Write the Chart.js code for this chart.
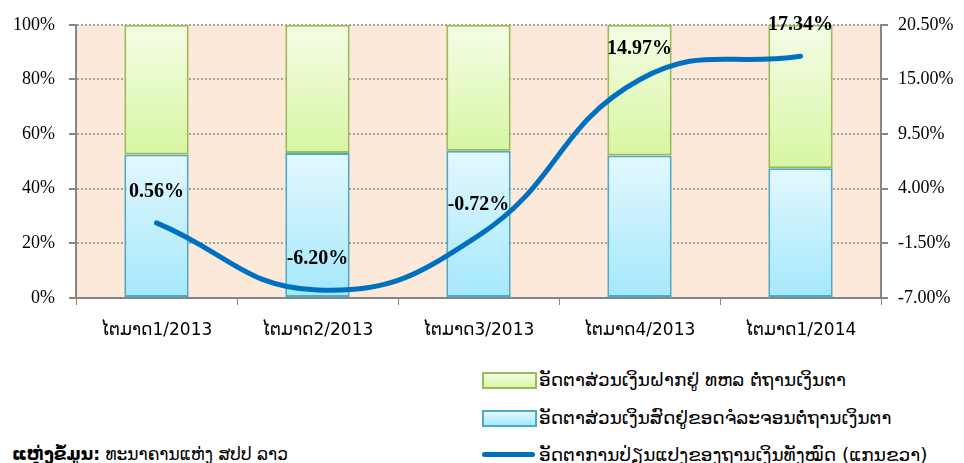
<!DOCTYPE html>
<html>
<head>
<meta charset="utf-8">
<script src="https://cdn.jsdelivr.net/npm/chart.js@4"></script>
<style>
  html, body { margin: 0; padding: 0; background: #fff; }
  body { width: 964px; height: 463px; position: relative; overflow: hidden; font-family: "DejaVu Sans", "Noto Sans", sans-serif; }
  #wrap { position: absolute; left: 0; top: 0; width: 964px; height: 345px; }
  .legend { position: absolute; left: 482px; top: 365px; }
  .legend .item { position: relative; height: 37.5px; line-height: 30px; font-size: 18.5px; color: #000; white-space: nowrap; padding-left: 57px; }
  .legend .sw { position: absolute; left: 0; top: 7px; width: 51px; height: 13px; }
  .legend .sw.line { top: 12px; height: 5px; border-radius: 3px; background: #0070C0; width: 53px; }
  .source { position: absolute; left: 12px; top: 444px; font-size: 17px; color: #000; white-space: nowrap; }
</style>
</head>
<body>
<div id="wrap"><canvas id="chart"></canvas></div>

<div class="legend">
  <div class="item"><span class="sw" style="background:linear-gradient(#F3FDE5,#D8F6A4);border:2px solid #9BBB59"></span>ອັດຕາສ່ວນເງິນຝາກຢູ່ ທຫລ ຕໍ່ຖານເງິນຕາ</div>
  <div class="item"><span class="sw" style="background:linear-gradient(#E3F8FE,#A6E9FC);border:2px solid #4BACC6"></span>ອັດຕາສ່ວນເງິນສົດຢູ່ຂອດຈໍລະຈອນຕໍ່ຖານເງິນຕາ</div>
  <div class="item"><span class="sw line"></span>ອັດຕາການປ່ຽນແປງຂອງຖານເງິນທັງໝົດ (ແກນຂວາ)</div>
</div>
<div class="source"><b>ແຫຼ່ງຂໍ້ມູນ:</b> ທະນາຄານແຫ່ງ ສປປ ລາວ</div>

<script>
/* -------- Data -------- */
const categories = ["ໄຕມາດ1/2013", "ໄຕມາດ2/2013", "ໄຕມາດ3/2013", "ໄຕມາດ4/2013", "ໄຕມາດ1/2014"];
const cashShare = [52.5, 53.1, 53.9, 52.2, 47.5];      // blue, bottom
const depositShare = [47.5, 46.9, 46.1, 47.8, 52.5];   // green, top
const baseGrowth = [0.56, -6.20, -0.72, 14.97, 17.34]; // line, right axis

const leftTicks = { min: 0, max: 100, step: 20 };
const rightTicks = { min: -7, max: 20.5, step: 5.5 };

/* -------- Helpers -------- */
function segGradient(c, topColor, bottomColor, fromVal, toVal) {
  const chart = c.chart;
  const y = chart.scales && chart.scales.y;
  if (!y || !chart.chartArea || c.dataIndex === undefined) return bottomColor;
  const yTop = y.getPixelForValue(toVal(c.dataIndex));
  const yBot = y.getPixelForValue(fromVal(c.dataIndex));
  const g = chart.ctx.createLinearGradient(0, yTop, 0, yBot);
  g.addColorStop(0, topColor);
  g.addColorStop(1, bottomColor);
  return g;
}

const plotBg = {
  id: "plotBg",
  beforeDraw(chart) {
    const a = chart.chartArea, ctx = chart.ctx;
    ctx.save();
    ctx.fillStyle = "#FDE9DA";
    ctx.fillRect(a.left, a.top, a.right - a.left, a.bottom - a.top);
    ctx.restore();
  }
};

const lineLabels = {
  id: "lineLabels",
  afterDatasetsDraw(chart) {
    const meta = chart.getDatasetMeta(2);
    const ctx = chart.ctx;
    ctx.save();
    ctx.font = "bold 20px 'Liberation Serif', 'Times New Roman', serif";
    ctx.fillStyle = "#000";
    ctx.textAlign = "center";
    ctx.textBaseline = "middle";
    meta.data.forEach((pt, i) => {
      ctx.fillText(baseGrowth[i].toFixed(2) + "%", pt.x, pt.y - 31);
    });
    ctx.restore();
  }
};

/* -------- Chart -------- */
const serif = { family: "'Liberation Serif', 'Times New Roman', serif", size: 18 };

new Chart(document.getElementById("chart"), {
  data: {
    labels: categories,
    datasets: [
      {
        type: "bar",
        label: "ອັດຕາສ່ວນເງິນສົດຢູ່ຂອດຈໍລະຈອນຕໍ່ຖານເງິນຕາ",
        data: cashShare,
        yAxisID: "y",
        order: 2,
        borderColor: "#4BACC6",
        borderWidth: 2,
        borderSkipped: false,
        backgroundColor: c => segGradient(c, "#E3F8FE", "#A4E8FC", i => 0, i => cashShare[i]),
        barPercentage: 0.4,
        categoryPercentage: 1
      },
      {
        type: "bar",
        label: "ອັດຕາສ່ວນເງິນຝາກຢູ່ ທຫລ ຕໍ່ຖານເງິນຕາ",
        data: depositShare,
        yAxisID: "y",
        order: 2,
        borderColor: "#9BBB59",
        borderWidth: 2,
        borderSkipped: false,
        backgroundColor: c => segGradient(c, "#F4FDE7", "#D7F6A2", i => cashShare[i], i => 100),
        barPercentage: 0.4,
        categoryPercentage: 1
      },
      {
        type: "line",
        label: "ອັດຕາການປ່ຽນແປງຂອງຖານເງິນທັງໝົດ (ແກນຂວາ)",
        data: baseGrowth,
        yAxisID: "y1",
        order: 0,
        borderColor: "#0070C0",
        borderWidth: 5,
        borderCapStyle: "round",
        tension: 0.45,
        pointRadius: 0,
        fill: false
      }
    ]
  },
  plugins: [plotBg, lineLabels],
  options: {
    responsive: true,
    maintainAspectRatio: false,
    animation: false,
    layout: { padding: { top: 18, left: 0, right: 0, bottom: 0 } },
    plugins: { legend: { display: false }, tooltip: { enabled: false } },
    scales: {
      x: {
        stacked: true,
        afterFit: s => { s.height = 47; },
        grid: { offset: true, drawOnChartArea: false, tickLength: 7, color: "#868686", lineWidth: 1 },
        border: { color: "#868686", width: 2 },
        ticks: { color: "#000", font: { family: "'DejaVu Sans', 'Noto Sans', sans-serif", size: 17 }, padding: 15, maxRotation: 0 }
      },
      y: {
        stacked: true,
        position: "left",
        min: leftTicks.min,
        max: leftTicks.max,
        afterFit: s => { s.width = 76; },
        ticks: { stepSize: leftTicks.step, color: "#000", font: serif, padding: 14, callback: v => v + "%" },
        grid: { display: true, drawOnChartArea: true, color: "#A3A3A3", lineWidth: 2, tickLength: 7, tickWidth: 2, tickColor: "#868686", tickBorderDash: [] },
        border: { display: true, color: "#868686", width: 2, dash: [2, 2] }
      },
      y1: {
        position: "right",
        min: rightTicks.min,
        max: rightTicks.max,
        afterFit: s => { s.width = 83; },
        afterBuildTicks: s => {
          const t = [];
          for (let v = rightTicks.min; v <= rightTicks.max + 1e-9; v += rightTicks.step) t.push({ value: Math.round(v * 100) / 100 });
          s.ticks = t;
        },
        ticks: { color: "#000", font: serif, padding: 10, callback: v => Number(v).toFixed(2) + "%" },
        grid: { drawOnChartArea: false, tickLength: 7, lineWidth: 2, color: "#868686" },
        border: { color: "#868686", width: 2 }
      }
    }
  }
});
</script>
</body>
</html>
